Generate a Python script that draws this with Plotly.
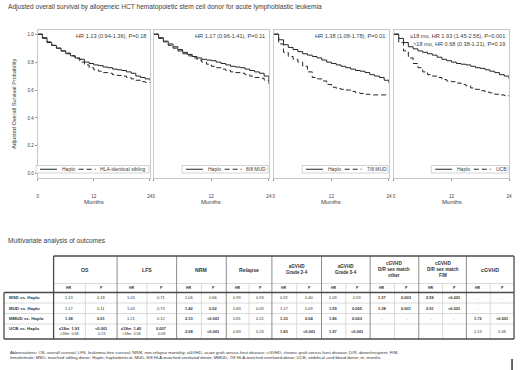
import plotly.graph_objects as go

W, H = 520, 370
FONT = "Liberation Sans, Arial, sans-serif"
TXT = "#404040"

# ---------------- survival curve data ----------------
months = [0, 1, 2, 3, 4, 5, 6, 7, 8, 9, 10, 11, 12, 13, 14, 15, 16, 17, 18, 19, 20, 21, 22, 23, 24]

haplo_p1 = [1.0, 0.97, 0.94, 0.92, 0.90, 0.88, 0.86, 0.845, 0.83, 0.82, 0.80, 0.79, 0.78, 0.775, 0.765,
            0.76, 0.75, 0.745, 0.74, 0.73, 0.72, 0.70, 0.69, 0.68, 0.67]
msd_p1 = [1.0, 0.975, 0.945, 0.92, 0.90, 0.88, 0.865, 0.845, 0.825, 0.80, 0.78, 0.76, 0.745, 0.735, 0.725,
          0.72, 0.71, 0.705, 0.70, 0.69, 0.68, 0.67, 0.66, 0.655, 0.65]
haplo_p2 = [1.0, 0.975, 0.95, 0.93, 0.91, 0.89, 0.87, 0.855, 0.84, 0.83, 0.82, 0.815, 0.81, 0.80, 0.79,
            0.78, 0.77, 0.765, 0.76, 0.75, 0.74, 0.73, 0.72, 0.70, 0.67]
mud_p2 = [1.0, 0.97, 0.945, 0.92, 0.90, 0.88, 0.86, 0.845, 0.83, 0.815, 0.80, 0.785, 0.77, 0.76, 0.75,
          0.74, 0.73, 0.725, 0.72, 0.71, 0.70, 0.69, 0.685, 0.67, 0.64]
haplo_p3 = [1.0, 0.96, 0.925, 0.905, 0.89, 0.875, 0.86, 0.85, 0.84, 0.83, 0.815, 0.80, 0.79, 0.78, 0.77,
            0.76, 0.75, 0.74, 0.735, 0.725, 0.71, 0.70, 0.69, 0.67, 0.65]
mmud_p3 = [1.0, 0.93, 0.87, 0.84, 0.82, 0.80, 0.77, 0.73, 0.69, 0.68, 0.665, 0.64, 0.62, 0.61, 0.605,
           0.60, 0.59, 0.58, 0.575, 0.57, 0.565, 0.565, 0.565, 0.565, 0.565]
haplo_p4 = [1.0, 0.97, 0.94, 0.91, 0.895, 0.88, 0.87, 0.86, 0.85, 0.835, 0.82, 0.81, 0.80, 0.79, 0.785,
            0.78, 0.77, 0.76, 0.755, 0.745, 0.735, 0.725, 0.71, 0.70, 0.68]
ucb_p4 = [1.0, 0.94, 0.88, 0.83, 0.79, 0.76, 0.73, 0.71, 0.70, 0.69, 0.675, 0.665, 0.66, 0.65, 0.64,
          0.63, 0.615, 0.605, 0.595, 0.585, 0.58, 0.57, 0.565, 0.56, 0.555]

ref_names = ["Haplo", "Haplo", "Haplo", "Haplo"]
cmp_names = ["HLA-identical sibling", "8/8 MUD", "7/8 MUD", "UCB"]
hr_texts = [
    ["HR 1.13 (0.94-1.36), P=0.18"],
    ["HR 1.17 (0.96-1.41), P=0.11"],
    ["HR 1.38 (1.08-1.78), P=0.01"],
    ["≤18 mo, HR 1.93 (1.45-2.56), P&lt;0.001", ">18 mo, HR 0.68 (0.38-1.21), P=0.19"],
]
x_ticks = [0, 12, 24]
y_ticks = [0.0, 0.2, 0.4, 0.6, 0.8, 1.0]

title_text = "Adjusted overall survival by allogeneic HCT hematopoietic stem cell donor for acute lymphoblastic leukemia"
y_title = "Adjusted Overall Survival Probability"
x_title = "Months"

# ---------------- table data ----------------
table_title = "Multivariate analysis of outcomes"
row_labels = ["MSD vs. Haplo", "MUD vs. Haplo", "MMUD vs. Haplo", "UCB vs. Haplo"]
outcome_headers = ["OS", "LFS", "NRM", "Relapse", "aGVHD<br>Grade 2-4", "aGVHD<br>Grade 3-4",
                   "cGVHD<br>D/R sex match<br>other", "cGVHD<br>D/R sex match<br>F/M", "cGVHD"]
os_hr = ["1.13", "1.17", "1.38", ("≤18m  1.93", ">18m  0.68")]
os_p = ["0.18", "0.11", "0.01", ("<0.001", "0.19")]
lfs_hr = ["1.03", "1.03", "1.21", ("≤18m  1.40", ">18m  0.58")]
lfs_p = ["0.71", "0.73", "0.12", ("0.007", "0.08")]
nrm_hr = ["1.06", "1.42", "2.13", "2.08"]
nrm_p = ["0.66", "0.02", "<0.001", "<0.001"]
relapse_hr = ["0.99", "0.83", "0.81", "0.83"]
relapse_p = ["0.93", "0.09", "0.22", "0.23"]
agvhd24_hr = ["0.92", "1.17", "1.33", "1.83"]
agvhd24_p = ["0.40", "0.09", "0.04", "<0.001"]
agvhd34_hr = ["1.09", "1.59", "1.86", "1.97"]
agvhd34_p = ["0.59", "0.005", "0.003", "<0.001"]
cgvhd_other_hr = ["1.37", "1.38", "-", ""]
cgvhd_other_p = ["0.003", "0.001", "-", ""]
cgvhd_fm_hr = ["2.59", "2.91", "-", ""]
cgvhd_fm_p = ["<0.001", "<0.001", "-", ""]
cgvhd_hr = ["-", "-", "1.72", "1.13"]
cgvhd_p = ["-", "", "<0.001", "0.38"]
abbrev_lines = [
    "Abbreviations: OS, overall survival; LFS, leukemia-free survival; NRM, non-relapse mortality; aGVHD, acute graft-versus-host disease; cGVHD, chronic graft-versus-host disease; D/R, donor/recipient; F/M,",
    "female/male; MSD, matched sibling donor; Haplo, haploidentical; MUD, 8/8 HLA-matched unrelated donor; MMUD, 7/8 HLA-matched unrelated donor; UCB, umbilical cord blood donor; m, months",
]

# ---------------- helpers ----------------
def fx(px):
    return px / W

def fy(py):
    return 1 - py / H

_cw = {}
for ch in "abcdeghnopqsuvxyz0123456789":
    _cw[ch] = 0.556
for ch in "ijl":
    _cw[ch] = 0.222
for ch in "ftr/ .,":
    _cw[ch] = 0.29
_cw["-"] = 0.333
for ch in "ABCDEFGHKLNOPQRSTUVXYZ":
    _cw[ch] = 0.70
_cw["M"] = 0.833
_cw["I"] = 0.278

def text_w(s, size):
    return sum(_cw.get(c, 0.55) for c in s) * size

fig = go.Figure()
annotations = []
shapes = []

panel_px = [(37, 150), (154, 270), (275, 391), (396, 512)]
top_px, bot_px = 30, 178
curves = [(haplo_p1, msd_p1), (haplo_p2, mud_p2), (haplo_p3, mmud_p3), (haplo_p4, ucb_p4)]
LINE_C = "#262626"
DASH = "5px,3px"

for i, ((x0, x1), (ref_vals, cmp_vals)) in enumerate(zip(panel_px, curves)):
    xa = "x" if i == 0 else f"x{i+1}"
    ya = "y" if i == 0 else f"y{i+1}"
    fig.add_trace(go.Scatter(x=months, y=ref_vals, mode="lines", line=dict(color=LINE_C, width=1, shape="hv"),
                             xaxis=xa, yaxis=ya, showlegend=False, name=ref_names[i]))
    fig.add_trace(go.Scatter(x=months, y=cmp_vals, mode="lines",
                             line=dict(color=LINE_C, width=1, shape="hv", dash=DASH),
                             xaxis=xa, yaxis=ya, showlegend=False, name=cmp_names[i]))
    xkey = "xaxis" if i == 0 else f"xaxis{i+1}"
    ykey = "yaxis" if i == 0 else f"yaxis{i+1}"
    fig.layout[xkey] = dict(domain=[fx(x0), fx(x1)], range=[0, 24], tickvals=x_ticks, anchor=ya,
                            showline=True, linecolor="#c8c8c8", linewidth=1, mirror=True,
                            showgrid=False, zeroline=False, ticks="outside", ticklen=2, tickcolor="#999",
                            ticklabelstandoff=11, tickfont=dict(size=4.6, color=TXT, family=FONT))
    fig.layout[ykey] = dict(domain=[fy(bot_px), fy(top_px)], range=[-0.03, 1.03], anchor=xa,
                            showline=True, linecolor="#c8c8c8", linewidth=1, mirror=True,
                            showgrid=False, zeroline=False,
                            tickvals=y_ticks if i == 0 else [], tickformat=".1f",
                            ticks="outside" if i == 0 else "", ticklen=2, tickcolor="#999",
                            showticklabels=(i == 0), tickfont=dict(size=4.5, color=TXT, family=FONT))
    annotations.append(dict(x=fx((x0 + x1) / 2), y=fy(202), xref="paper", yref="paper", text=x_title,
                            showarrow=False, font=dict(size=6, color=TXT, family=FONT),
                            xanchor="center", yanchor="middle"))
    for k, t in enumerate(hr_texts[i]):
        annotations.append(dict(x=fx(x1 - 2), y=fy(36 + 7.5 * k), xref="paper", yref="paper", text=t,
                                showarrow=False, font=dict(size=5.6, color=TXT, family=FONT),
                                xanchor="right", yanchor="middle"))
    fs = 5
    wa = text_w(ref_names[i], fs)
    wb = text_w(cmp_names[i], fs)
    bw = 4 + 17 + 3 + wa + 6 + 17 + 3 + wb + 4
    bx1 = x1 - 1
    bx0 = bx1 - bw
    ly0, ly1 = 165.5, 173
    lyc = (ly0 + ly1) / 2
    shapes.append(dict(type="rect", xref="paper", yref="paper", x0=fx(bx0), x1=fx(bx1), y0=fy(ly1), y1=fy(ly0),
                       line=dict(color="#c8c8c8", width=0.8), fillcolor="white"))
    cx = bx0 + 4
    for name, dash, w in ((ref_names[i], "solid", wa), (cmp_names[i], DASH, wb)):
        shapes.append(dict(type="line", xref="paper", yref="paper", x0=fx(cx), x1=fx(cx + 17),
                           y0=fy(lyc), y1=fy(lyc), line=dict(color=LINE_C, width=1, dash=dash)))
        annotations.append(dict(x=fx(cx + 20), y=fy(lyc), xref="paper", yref="paper", text=name,
                                showarrow=False, font=dict(size=fs, color=TXT, family=FONT),
                                xanchor="left", yanchor="middle"))
        cx += 17 + 3 + w + 6

annotations.append(dict(x=fx(13), y=fy(104), xref="paper", yref="paper", text=y_title, textangle=-90,
                        showarrow=False, font=dict(size=5.6, color=TXT, family=FONT),
                        xanchor="center", yanchor="middle"))
annotations.append(dict(x=fx(5), y=fy(7), xref="paper", yref="paper", text=title_text, showarrow=False,
                        font=dict(size=6.6, color=TXT, family=FONT), xanchor="left", yanchor="middle"))
annotations.append(dict(x=fx(5), y=fy(241), xref="paper", yref="paper", text=table_title, showarrow=False,
                        font=dict(size=6.6, color=TXT, family=FONT), xanchor="left", yanchor="middle"))

# ---------------- table ----------------
col_edges = [53, 117, 177, 227, 273, 323, 372, 421, 469, 517]
row_edges = [292.5, 303, 313.5, 324, 339]
t_top, h_mid = 256, 283.5
lbl_x0 = 3
hr_cols = [os_hr, lfs_hr, nrm_hr, relapse_hr, agvhd24_hr, agvhd34_hr, cgvhd_other_hr, cgvhd_fm_hr, cgvhd_hr]
p_cols = [os_p, lfs_p, nrm_p, relapse_p, agvhd24_p, agvhd34_p, cgvhd_other_p, cgvhd_fm_p, cgvhd_p]

LIGHT = "#d0d0d0"
MID = "#8c8c8c"
DARK = "#4a4a4a"

def hline(y, xa, xb, color, w):
    shapes.append(dict(type="line", xref="paper", yref="paper", x0=fx(xa), x1=fx(xb), y0=fy(y), y1=fy(y),
                       line=dict(color=color, width=w)))

def vline(x, ya, yb, color, w):
    shapes.append(dict(type="line", xref="paper", yref="paper", x0=fx(x), x1=fx(x), y0=fy(ya), y1=fy(yb),
                       line=dict(color=color, width=w)))

for y in row_edges[1:-1]:
    hline(y, lbl_x0, col_edges[-1], LIGHT, 0.8)
hline(h_mid, col_edges[0], col_edges[-1], LIGHT, 0.8)
for a, b in zip(col_edges[:-1], col_edges[1:]):
    vline((a + b) / 2, h_mid, row_edges[-1], LIGHT, 0.8)
for x in col_edges[1:-1]:
    vline(x, t_top, row_edges[-1], MID, 1)
hline(row_edges[0], lbl_x0, col_edges[-1], DARK, 1.3)
hline(t_top, col_edges[0], col_edges[-1], DARK, 1.3)
hline(row_edges[-1], lbl_x0, col_edges[-1], DARK, 1.3)
vline(col_edges[0], t_top, row_edges[-1], DARK, 1.3)
vline(col_edges[-1], t_top, row_edges[-1], DARK, 1.3)
vline(lbl_x0, row_edges[0], row_edges[-1], DARK, 1.3)

def ann(x, y, text, size, bold=False, anchor="center"):
    t = text.replace("<", "&lt;").replace(">", "&gt;") if "<br>" not in text else text
    if bold and t:
        t = "<b>" + t + "</b>"
    annotations.append(dict(x=fx(x), y=fy(y), xref="paper", yref="paper", text=t, showarrow=False,
                            font=dict(size=size, color="#333", family=FONT), xanchor=anchor, yanchor="middle"))

def is_sig(p):
    if p in ("", "-"):
        return False
    if p.startswith("<"):
        return True
    return float(p) < 0.05

for j, head in enumerate(outcome_headers):
    a, b = col_edges[j], col_edges[j + 1]
    ann((a + b) / 2, (t_top + h_mid) / 2, head, 4.6 if "<br>" in head else 5.2, bold=True)
    ann(a + (b - a) / 4, (h_mid + row_edges[0]) / 2, "HR", 3.6, bold=True)
    ann(a + 3 * (b - a) / 4, (h_mid + row_edges[0]) / 2, "P", 3.6, bold=True)
    for r in range(4):
        yc = (row_edges[r] + row_edges[r + 1]) / 2
        hv, pv = hr_cols[j][r], p_cols[j][r]
        if isinstance(hv, tuple):
            for k in range(2):
                sig = is_sig(pv[k])
                ann(a + (b - a) / 4, yc - 2.6 + 5.2 * k, hv[k], 4.0 if k == 0 else 3.7, bold=sig)
                ann(a + 3 * (b - a) / 4, yc - 2.6 + 5.2 * k, pv[k], 4.0 if k == 0 else 3.7, bold=sig)
        else:
            sig = is_sig(pv)
            ann(a + (b - a) / 4, yc, hv, 4.0, bold=sig)
            ann(a + 3 * (b - a) / 4, yc, pv, 4.0, bold=sig)

for r, lab in enumerate(row_labels):
    yc = (row_edges[r] + row_edges[r + 1]) / 2
    ann(6, yc if r < 3 else yc - 3, lab, 4.4, bold=True, anchor="left")

for k, line in enumerate(abbrev_lines):
    annotations.append(dict(x=fx(7), y=fy(352.5 + 5.3 * k), xref="paper", yref="paper",
                            text=line.replace("<", "&lt;"), showarrow=False,
                            font=dict(size=4.3, color="#333", family=FONT), xanchor="left", yanchor="middle"))

vline(515, 359, 370, "#333", 1.5)

fig.update_layout(width=W, height=H, margin=dict(l=0, r=0, t=0, b=0), paper_bgcolor="white",
                  plot_bgcolor="white", showlegend=False, annotations=annotations, shapes=shapes,
                  font=dict(family=FONT, color=TXT))
fig.write_html("out.html", config={"displayModeBar": False},
               post_script="document.body.style.margin='0';document.body.style.overflow='hidden';")
